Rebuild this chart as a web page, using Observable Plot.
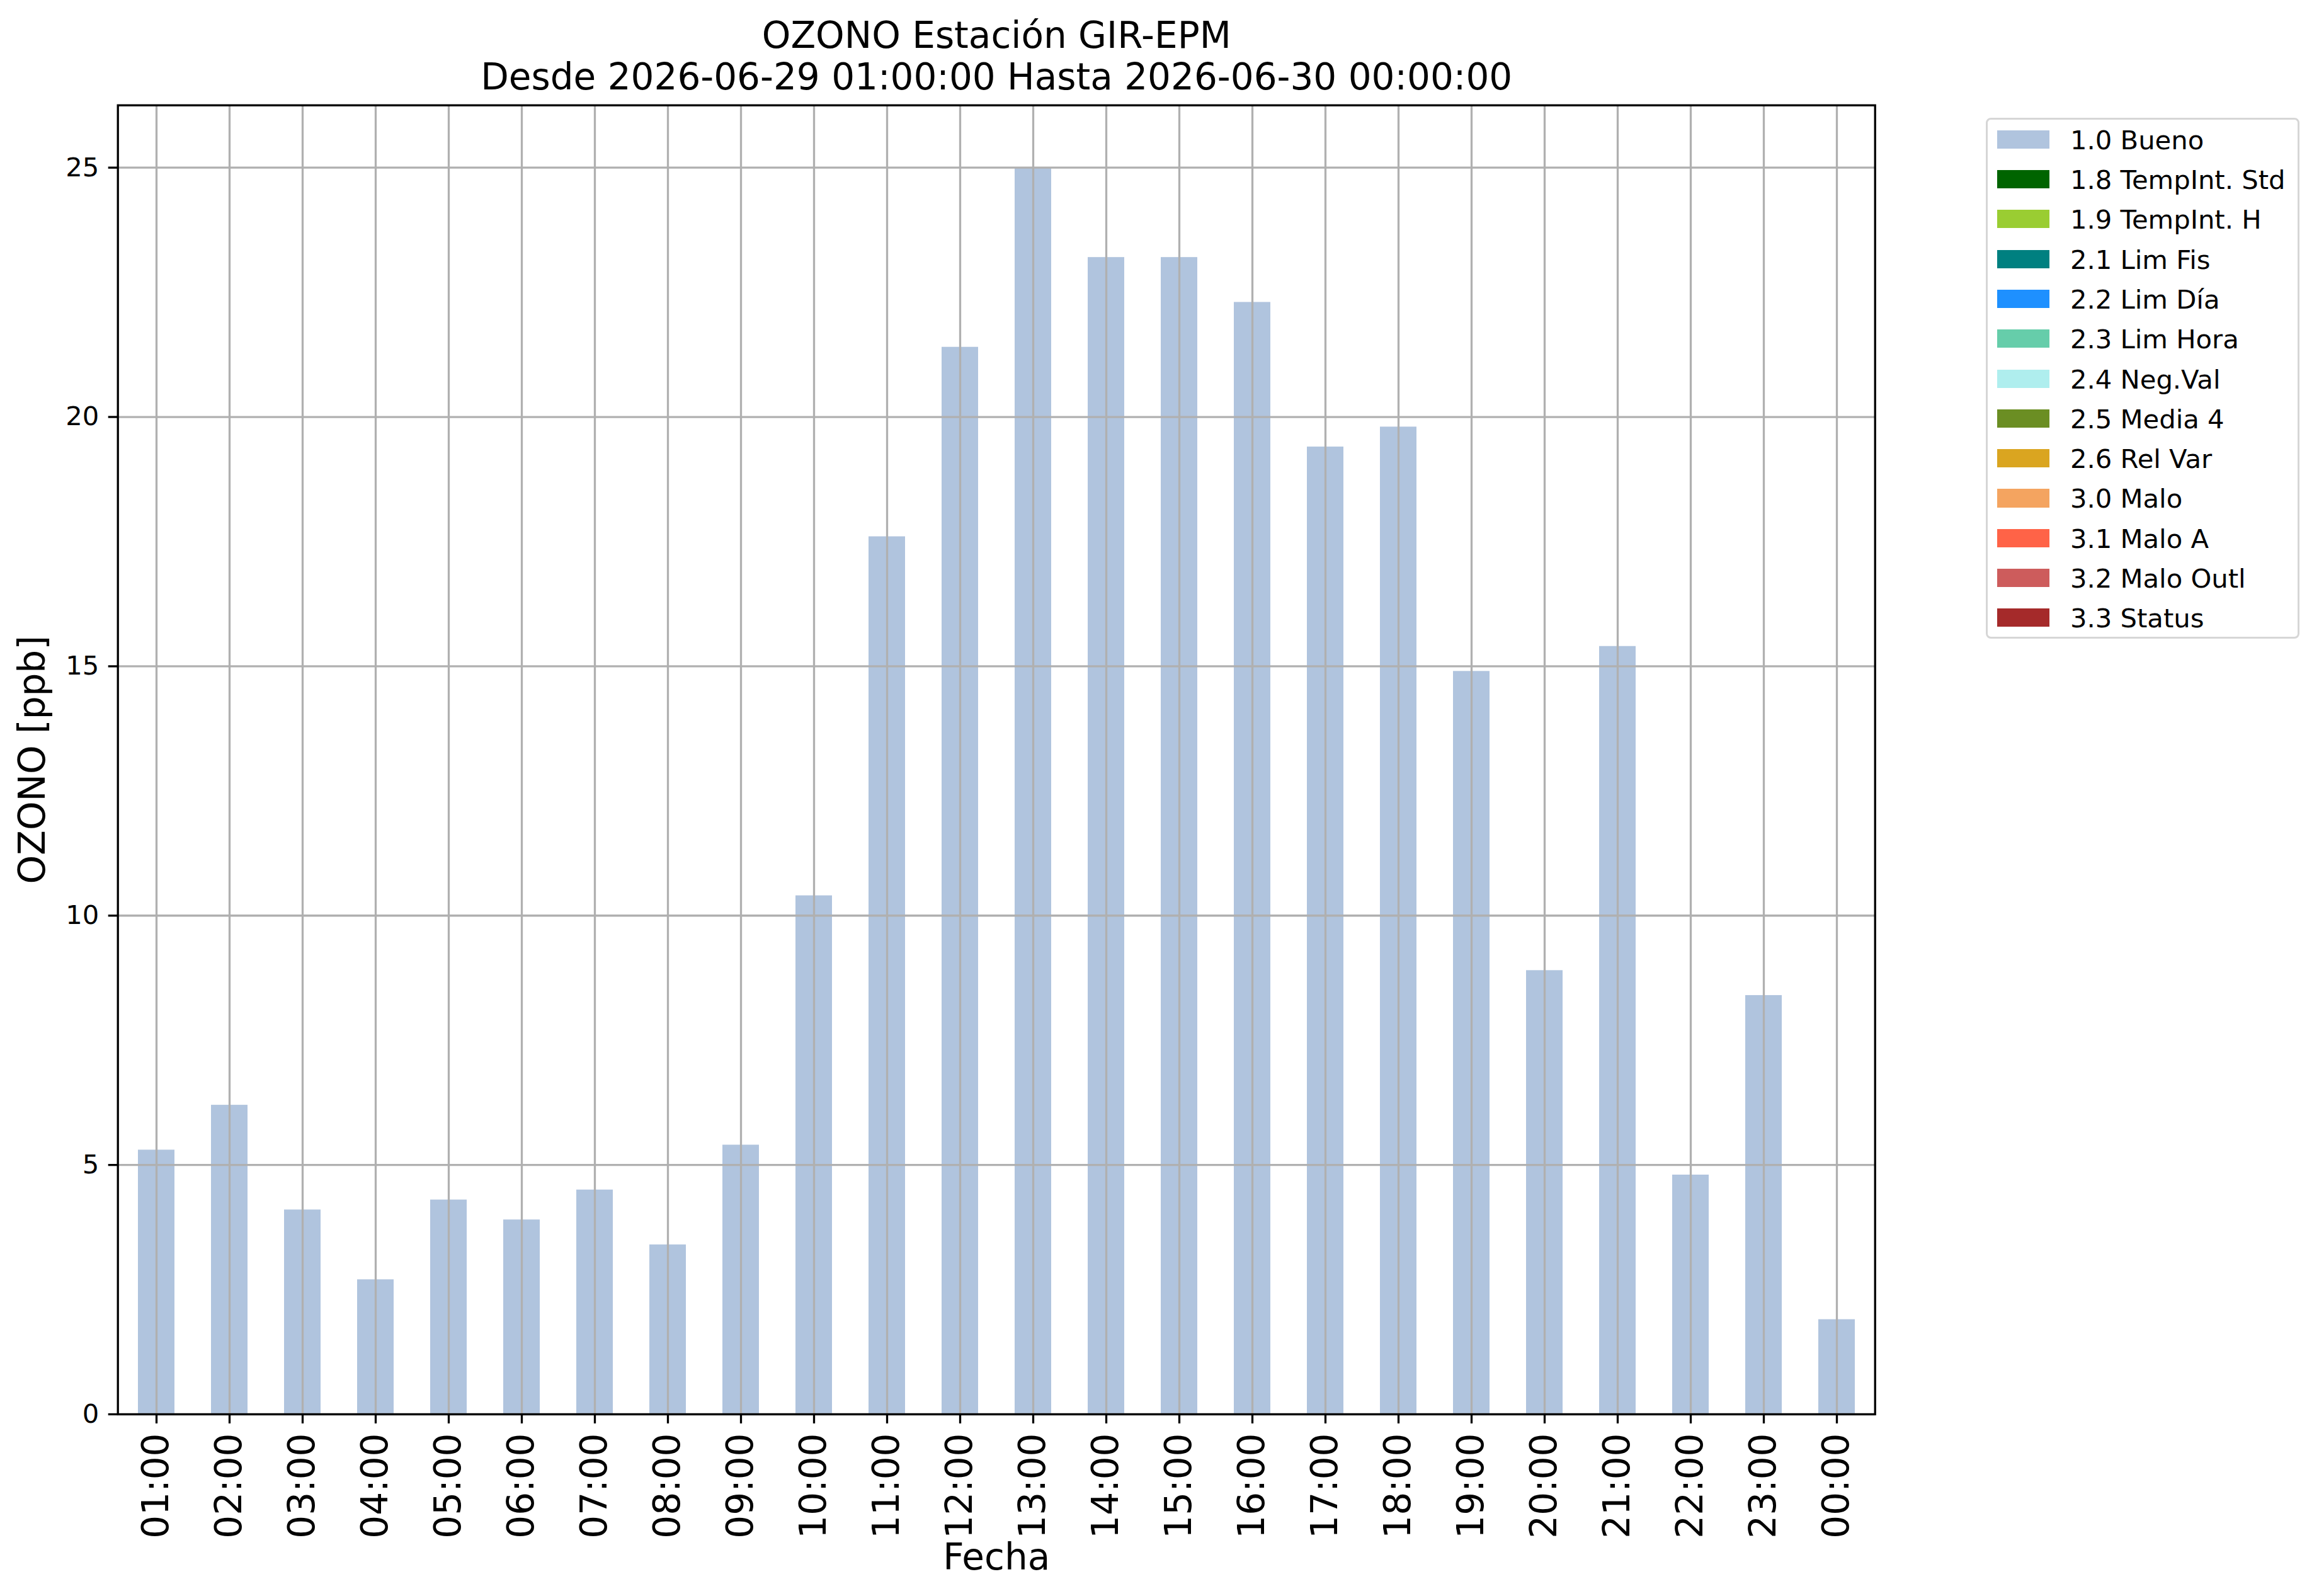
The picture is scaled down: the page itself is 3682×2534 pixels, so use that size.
<!DOCTYPE html>
<html>
<head>
<meta charset="utf-8">
<script src="https://cdn.jsdelivr.net/npm/d3@7"></script>
<script src="https://cdn.jsdelivr.net/npm/@observablehq/plot@0.6"></script>
<style>
  html, body { margin: 0; padding: 0; background: #fff; }
  #wrap { position: relative; width: 3682px; height: 2534px; font-family: "DejaVu Sans", sans-serif; }
  #wrap svg { position: absolute; left: 0; top: 0; }
  .legend { position: absolute; left: 3153px; top: 187px; width: 498px; height: 827px;
            box-sizing: border-box; border: 3.3px solid #d6d6d6; border-radius: 8px; background: #fff; }
  .sw { position: absolute; left: 14.7px; width: 83.3px; height: 29.2px; }
  .lt { position: absolute; left: 131px; font-size: 41.7px; line-height: 41.7px; color: #000; white-space: nowrap; }
</style>
</head>
<body>
<div id="wrap"></div>
<script>
const horas = ["01:00","02:00","03:00","04:00","05:00","06:00","07:00","08:00","09:00","10:00","11:00","12:00",
               "13:00","14:00","15:00","16:00","17:00","18:00","19:00","20:00","21:00","22:00","23:00","00:00"];
const valores = [5.3, 6.2, 4.1, 2.7, 4.3, 3.9, 4.5, 3.4, 5.4, 10.4, 17.6, 21.4,
                 25.0, 23.2, 23.2, 22.3, 19.4, 19.8, 14.9, 8.9, 15.4, 4.8, 8.4, 1.9];
const yTicks = [0, 5, 10, 15, 20, 25];
const legendLabels = ["1.0 Bueno","1.8 TempInt. Std","1.9 TempInt. H","2.1 Lim Fis","2.2 Lim Día","2.3 Lim Hora",
                      "2.4 Neg.Val","2.5 Media 4","2.6 Rel Var","3.0 Malo","3.1 Malo A","3.2 Malo Outl","3.3 Status"];
const legendColors = ["#b0c4de","#006400","#9acd32","#008080","#1e90ff","#66cdaa",
                      "#afeeee","#6b8e23","#daa520","#f4a460","#ff6347","#cd5c5c","#a52a2a"];
const titulo = "OZONO Estación GIR-EPM\nDesde 2026-06-29 01:00:00 Hasta 2026-06-30 00:00:00";
const ylabel = "OZONO [ppb]";
const xlabel = "Fecha";

const data = horas.map((h, i) => ({hora: h, valor: valores[i]}));

const W = 3682, H = 2534;
const mL = 186.7, mR = W - 2976.7, mT = 166.7, mB = H - 2245;
const lw = 3.3;

const chart = Plot.plot({
  width: W, height: H,
  marginLeft: mL, marginRight: mR, marginTop: mT, marginBottom: mB,
  style: {fontFamily: "DejaVu Sans, sans-serif", background: "white", color: "black"},
  x: {type: "band", domain: horas, paddingInner: 0.5, paddingOuter: 0.25, align: 0.5, label: null, axis: null},
  y: {domain: [0, 26.25], label: null, axis: null},
  marks: [
    Plot.barY(data, {x: "hora", y: "valor", fill: legendColors[0]}),
    Plot.gridX(horas, {stroke: "#b0b0b0", strokeOpacity: 1, strokeWidth: lw}),
    Plot.gridY(yTicks, {stroke: "#b0b0b0", strokeOpacity: 1, strokeWidth: lw}),
    Plot.frame({stroke: "black", strokeWidth: lw}),
    Plot.axisX(horas, {tickRotate: -90, tickSize: 15, tickPadding: 15, fontSize: 58, label: null, strokeWidth: lw}),
    Plot.axisY(yTicks, {tickSize: 15, tickPadding: 15, fontSize: 41.7, label: null, strokeWidth: lw, tickFormat: d => String(d)}),
    Plot.text([titulo], {text: d => d, frameAnchor: "top", textAnchor: "middle", lineAnchor: "bottom", dy: -25, fontSize: 58, lineHeight: 1.15}),
    Plot.text([ylabel], {text: d => d, frameAnchor: "left", textAnchor: "middle", rotate: -90, lineAnchor: "middle", dx: -134.7, fontSize: 58}),
    Plot.text([xlabel], {text: d => d, frameAnchor: "bottom", textAnchor: "middle", lineAnchor: "bottom", dy: 246.7, fontSize: 58})
  ]
});

const wrap = document.getElementById("wrap");
wrap.appendChild(chart);

const leg = d3.select(wrap).append("div").attr("class", "legend");
legendLabels.forEach((lab, k) => {
  const top = 16.7 + k * 63.3;
  leg.append("div").attr("class", "sw").style("top", top + "px").style("background", legendColors[k]);
  leg.append("div").attr("class", "lt").style("top", (top - 5) + "px").text(lab);
});
</script>
</body>
</html>
